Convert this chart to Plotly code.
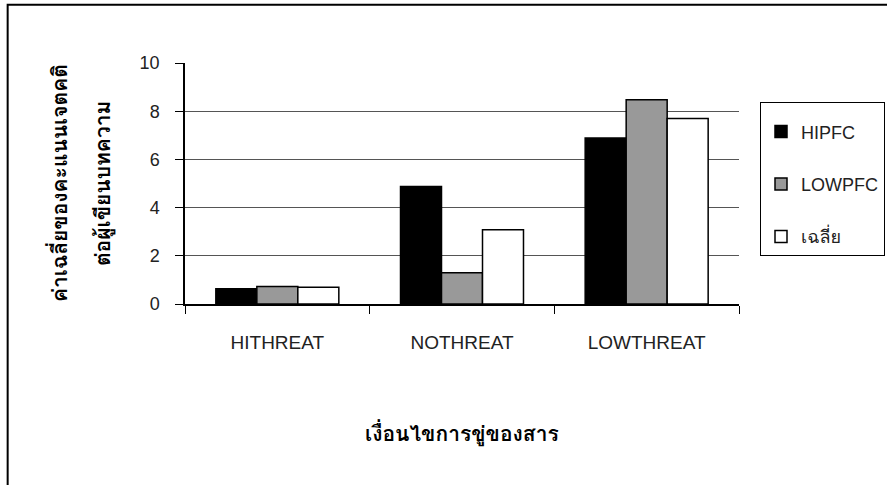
import plotly.graph_objects as go

categories = ["HITHREAT", "NOTHREAT", "LOWTHREAT"]
series_names = ["HIPFC", "LOWPFC", "เฉลี่ย"]
hipfc = [0.63, 4.88, 6.89]
lowpfc = [0.73, 1.30, 8.48]
avg = [0.69, 3.08, 7.70]
y_ticks = [0, 2, 4, 6, 8, 10]
y_title_lines = ["ค่าเฉลี่ยของคะแนนเจตคติ", "ต่อผู้เขียนบทความ"]
x_title = "เงื่อนไขการขู่ของสาร"

colors = ["#000000", "#999999", "#ffffff"]
values = [hipfc, lowpfc, avg]

W, H = 887, 485
L, R, T, B = 184.5, 739, 63.3, 304.3

fig = go.Figure()
for i, (name, vals) in enumerate(zip(series_names, values)):
    fig.add_trace(go.Bar(
        x=categories, y=vals, name=name, legendgroup=name,
        marker=dict(color=colors[i], line=dict(color="#000000", width=1.5)),
    ))

font_main = "Liberation Sans, Arial, Loma, Garuda, Noto Sans Thai, sans-serif"


def px_x(p):
    return (p - L) / (R - L)


def px_y(p):
    return (B - p) / (B - T)


fig.update_layout(
    width=W, height=H, autosize=False,
    margin=dict(l=L, r=W - R, t=T, b=H - B, pad=0, autoexpand=False),
    paper_bgcolor="white", plot_bgcolor="white",
    barmode="group", bargap=0.334, bargroupgap=0,
    font=dict(family=font_main, size=18, color="#222222"),
    showlegend=True,
    legend=dict(
        xref="container", yref="container",
        x=760 / W, y=1 - 102 / H, xanchor="left", yanchor="top",
        bordercolor="#000000", borderwidth=1, bgcolor="white",
        traceorder="grouped", tracegroupgap=26,
        title=dict(text=" ", font=dict(size=8)),
        font=dict(size=18, color="#222222"),
    ),
)

fig.update_yaxes(
    range=[0, 10], tickvals=y_ticks, ticks="outside", ticklen=8,
    tickcolor="#000000", showline=True, linecolor="#000000", linewidth=1.5,
    showgrid=True, gridcolor="#555555", gridwidth=1, zeroline=False,
    ticklabelstandoff=12, tickfont=dict(size=18, color="#222222"),
)
fig.update_xaxes(
    ticks="outside", tickson="boundaries", ticklen=8, tickcolor="#000000",
    showline=True, linecolor="#000000", linewidth=1.5,
    ticklabelstandoff=20, tickfont=dict(size=19, color="#222222"),
)

# Axis titles as annotations
for txt, xp in zip(y_title_lines, [57, 103]):
    fig.add_annotation(
        text="<b>%s</b>" % txt, textangle=-90,
        x=px_x(xp), y=0.5, xref="paper", yref="paper",
        xanchor="center", yanchor="middle", showarrow=False,
        font=dict(size=21, color="#000000"),
    )
fig.add_annotation(
    text="<b>%s</b>" % x_title,
    x=0.5, y=px_y(433), xref="paper", yref="paper",
    xanchor="center", yanchor="middle", showarrow=False,
    font=dict(size=21, color="#000000"),
)

# outer chart frame
fig.add_shape(
    type="rect", xref="paper", yref="paper",
    x0=px_x(7), y0=px_y(5), x1=px_x(900), y1=px_y(500),
    line=dict(color="#000000", width=2), fillcolor="rgba(0,0,0,0)", layer="below",
)

fig.write_html(
    "out.html",
    config={"displayModeBar": False, "responsive": False},
    post_script="document.body.style.margin='0px';document.body.style.overflow='hidden';",
)
